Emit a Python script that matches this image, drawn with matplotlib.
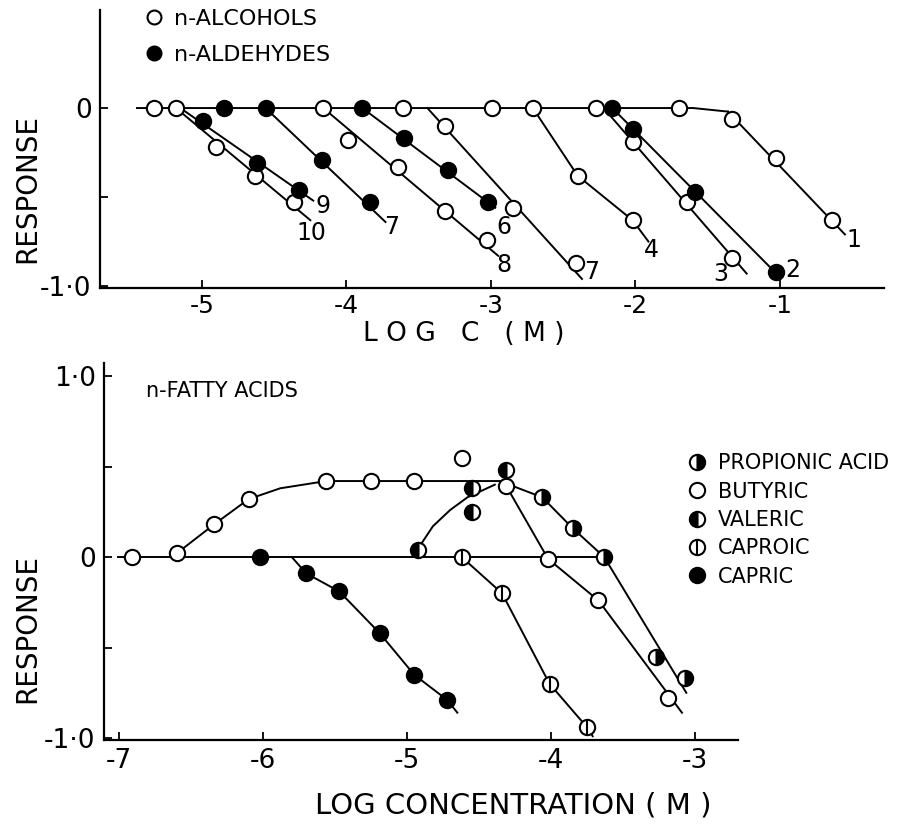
import numpy as np
import matplotlib.pyplot as plt
from matplotlib.lines import Line2D

plt.rcParams['font.family'] = ['DejaVu Sans']

# ---------------- top panel: n-alcohols (open) / n-aldehydes (filled)
top_base_x = [-5.45, -1.60, -1.36]
top_base_y = [0.0, 0.0, -0.02]
alc_base_x = [-5.33, -5.18, -4.16, -3.61, -2.99, -2.71, -2.27, -1.70]
ald_base_x = [-4.85, -4.56, -3.89, -2.16]
alc_extra_x = [-3.99]
alc_extra_y = [-0.18]

alc10_x = [-4.90, -4.63, -4.36]
alc10_y = [-0.22, -0.38, -0.53]
alc10_line_x = [-5.18, -4.25]
alc10_line_y = [0.0, -0.63]

ald9_x = [-4.99, -4.62, -4.33]
ald9_y = [-0.07, -0.31, -0.46]
ald9_line_x = [-5.15, -4.23]
ald9_line_y = [0.0, -0.52]

ald7_x = [-4.17, -3.84]
ald7_y = [-0.29, -0.53]
ald7_line_x = [-4.56, -3.73]
ald7_line_y = [0.0, -0.64]

alc8_x = [-3.64, -3.32, -3.03]
alc8_y = [-0.33, -0.58, -0.74]
alc8_line_x = [-4.16, -2.95]
alc8_line_y = [0.0, -0.83]

ald6_x = [-3.60, -3.30, -3.02]
ald6_y = [-0.17, -0.35, -0.53]
ald6_line_x = [-3.89, -2.97]
ald6_line_y = [0.0, -0.56]

alc7_x = [-3.32, -2.85, -2.41]
alc7_y = [-0.10, -0.56, -0.87]
alc7_line_x = [-3.44, -2.37]
alc7_line_y = [0.0, -0.96]

alc4_x = [-2.40, -2.02]
alc4_y = [-0.38, -0.63]
alc4_line_x = [-2.71, -2.40, -2.02, -1.91]
alc4_line_y = [0.0, -0.38, -0.63, -0.75]

alc3_x = [-2.02, -1.64, -1.33]
alc3_y = [-0.19, -0.53, -0.84]
alc3_line_x = [-2.22, -1.23]
alc3_line_y = [0.0, -0.93]

ald2_x = [-2.02, -1.59, -1.03]
ald2_y = [-0.12, -0.47, -0.92]
ald2_line_x = [-2.16, -1.00]
ald2_line_y = [0.0, -0.95]

alc1_x = [-1.33, -1.03, -0.64]
alc1_y = [-0.06, -0.28, -0.63]
alc1_line_x = [-1.36, -0.55]
alc1_line_y = [-0.02, -0.71]

num_labels = ['9', '10', '7', '6', '8', '7', '4', '3', '2', '1']
num_x = [-4.16, -4.24, -3.69, -2.91, -2.91, -2.30, -1.89, -1.41, -0.91, -0.49]
num_y = [-0.55, -0.70, -0.67, -0.67, -0.88, -0.92, -0.80, -0.93, -0.91, -0.74]

# ---------------- bottom panel: n-fatty acids
bot_base_x = [-7.01, -3.63]
bot_base_y = [0.0, 0.0]

butyric_x = [-6.91, -6.60, -6.34, -6.10, -5.56, -5.25, -4.95, -4.31, -4.02, -3.67, -3.19]
butyric_y = [0.0, 0.02, 0.18, 0.32, 0.42, 0.42, 0.42, 0.39, -0.01, -0.24, -0.78]
butyric_extra_x = [-4.62]
butyric_extra_y = [0.55]
butyric_line_x = [-6.60, -6.34, -6.10, -5.88, -5.56, -4.33, -4.02, -3.67, -3.09]
butyric_line_y = [0.02, 0.18, 0.32, 0.38, 0.42, 0.42, -0.01, -0.24, -0.86]

valeric_x = [-4.92, -4.55, -4.55, -4.31]
valeric_y = [0.04, 0.38, 0.25, 0.48]
valeric_line_x = [-4.92, -4.82, -4.70, -4.58, -4.39]
valeric_line_y = [0.05, 0.17, 0.26, 0.33, 0.40]

propionic_x = [-4.06, -3.85, -3.63, -3.27, -3.07]
propionic_y = [0.33, 0.16, 0.0, -0.55, -0.67]
propionic_line_x = [-4.29, -4.06, -3.85, -3.63, -3.06]
propionic_line_y = [0.40, 0.33, 0.16, 0.0, -0.75]

caproic_x = [-4.62, -4.34, -4.01, -3.75]
caproic_y = [0.0, -0.20, -0.70, -0.94]
caproic_line_x = [-4.62, -4.34, -4.01, -3.75, -3.71]
caproic_line_y = [0.0, -0.20, -0.70, -0.94, -0.99]

capric_x = [-6.02, -5.70, -5.47, -5.19, -4.95, -4.72]
capric_y = [0.0, -0.09, -0.19, -0.42, -0.65, -0.79]
capric_line_x = [-5.80, -5.70, -5.47, -5.19, -4.95, -4.72, -4.65]
capric_line_y = [0.0, -0.09, -0.19, -0.42, -0.65, -0.79, -0.86]

acid_names = ['PROPIONIC ACID', 'BUTYRIC', 'VALERIC', 'CAPROIC', 'CAPRIC']

MS = 11
LW = 1.4
MEW = 1.5

styles = {
    'open': dict(marker='o', mfc='white', mec='black'),
    'filled': dict(marker='o', mfc='black', mec='black'),
    'right': dict(marker='o', mfc='black', mec='black', fillstyle='right', markerfacecoloralt='white'),
    'left': dict(marker='o', mfc='black', mec='black', fillstyle='left', markerfacecoloralt='white'),
}


def marks(ax, x, y, kind):
    if kind == 'caproic':
        ax.plot(x, y, ls='none', ms=MS, mew=MEW, zorder=3, **styles['open'])
        ax.plot(x, y, ls='none', marker='|', ms=MS - 1, mew=MEW, color='black', zorder=4)
    else:
        ax.plot(x, y, ls='none', ms=MS, mew=MEW, zorder=3, **styles[kind])


def line(ax, x, y):
    ax.plot(x, y, color='black', lw=LW, zorder=2)


def style_axes(ax):
    for s in ['top', 'right']:
        ax.spines[s].set_visible(False)
    for s in ['left', 'bottom']:
        ax.spines[s].set_linewidth(1.6)
    ax.tick_params(direction='in', length=6, width=1.3, labelsize=19, pad=6)


fig = plt.figure(figsize=(9.18, 8.3), dpi=100)

# ---------------- top panel
ax1 = fig.add_axes([0.1089, 0.653, 0.854, 0.335])
style_axes(ax1)
ax1.tick_params(axis='x', labelsize=18, pad=4)
ax1.set_xlim(-5.706, -0.280)
ax1.set_ylim(-1.011, 0.551)
ax1.set_xticks([-5, -4, -3, -2, -1])
ax1.set_xticklabels(['-5', '-4', '-3', '-2', '-1'])
ax1.set_yticks([0, -0.5, -1.0])
ax1.set_yticklabels(['0', '', '-1·0'])

line(ax1, top_base_x, top_base_y)
top_series = [
    (alc10_x, alc10_y, alc10_line_x, alc10_line_y, 'open'),
    (ald9_x, ald9_y, ald9_line_x, ald9_line_y, 'filled'),
    (ald7_x, ald7_y, ald7_line_x, ald7_line_y, 'filled'),
    (alc8_x, alc8_y, alc8_line_x, alc8_line_y, 'open'),
    (ald6_x, ald6_y, ald6_line_x, ald6_line_y, 'filled'),
    (alc7_x, alc7_y, alc7_line_x, alc7_line_y, 'open'),
    (alc4_x, alc4_y, alc4_line_x, alc4_line_y, 'open'),
    (alc3_x, alc3_y, alc3_line_x, alc3_line_y, 'open'),
    (ald2_x, ald2_y, ald2_line_x, ald2_line_y, 'filled'),
    (alc1_x, alc1_y, alc1_line_x, alc1_line_y, 'open'),
]
for px, py, lx, ly, kind in top_series:
    line(ax1, lx, ly)
    marks(ax1, px, py, kind)
marks(ax1, alc_base_x, np.zeros(len(alc_base_x)), 'open')
marks(ax1, ald_base_x, np.zeros(len(ald_base_x)), 'filled')
marks(ax1, alc_extra_x, alc_extra_y, 'open')

for t, x, y in zip(num_labels, num_x, num_y):
    ax1.text(x, y, t, fontsize=17, ha='center', va='center')

h_alc = Line2D([], [], ls='none', ms=MS - 1, mew=MEW, **styles['open'])
h_ald = Line2D([], [], ls='none', ms=MS - 1, mew=MEW, **styles['filled'])
ax1.legend([h_alc, h_ald], ['n-ALCOHOLS', 'n-ALDEHYDES'], loc='upper left',
           bbox_to_anchor=(0.043, 1.045), frameon=False, fontsize=16,
           handlelength=0.8, handletextpad=0.5, labelspacing=0.72, borderpad=0)

# ---------------- bottom panel
ax2 = fig.add_axes([0.1133, 0.1084, 0.6906, 0.4542])
style_axes(ax2)
ax2.set_xlim(-7.104, -2.701)
ax2.set_ylim(-1.011, 1.072)
ax2.set_xticks([-7, -6, -5, -4, -3])
ax2.set_xticklabels(['-7', '-6', '-5', '-4', '-3'])
ax2.set_yticks([1.0, 0.5, 0, -0.5, -1.0])
ax2.set_yticklabels(['1·0', '', '0', '', '-1·0'])

line(ax2, bot_base_x, bot_base_y)
line(ax2, butyric_line_x, butyric_line_y)
line(ax2, valeric_line_x, valeric_line_y)
line(ax2, propionic_line_x, propionic_line_y)
line(ax2, caproic_line_x, caproic_line_y)
line(ax2, capric_line_x, capric_line_y)

marks(ax2, butyric_x, butyric_y, 'open')
marks(ax2, butyric_extra_x, butyric_extra_y, 'open')
marks(ax2, valeric_x, valeric_y, 'left')
marks(ax2, propionic_x, propionic_y, 'right')
marks(ax2, caproic_x, caproic_y, 'caproic')
marks(ax2, capric_x, capric_y, 'filled')

ax2.text(-6.81, 0.92, 'n-FATTY ACIDS', fontsize=15, ha='left', va='center')

h_prop = Line2D([], [], ls='none', ms=MS, mew=MEW, **styles['right'])
h_but = Line2D([], [], ls='none', ms=MS, mew=MEW, **styles['open'])
h_val = Line2D([], [], ls='none', ms=MS, mew=MEW, **styles['left'])
h_cap1 = (Line2D([], [], ls='none', ms=MS, mew=MEW, **styles['open']),
          Line2D([], [], ls='none', marker='|', ms=MS - 1, mew=MEW, color='black'))
h_capric = Line2D([], [], ls='none', ms=MS, mew=MEW, **styles['filled'])
leg = ax2.legend([h_prop, h_but, h_val, h_cap1, h_capric], acid_names,
                 loc='upper left', bbox_to_anchor=(0.906, 0.788), frameon=False,
                 fontsize=15, handlelength=0.8, handletextpad=0.6,
                 labelspacing=0.4, borderpad=0)
leg.set_clip_on(False)

# ---------------- axis titles
fig.text(0.505, 0.597, 'L O G   C   ( M )', fontsize=19, ha='center', va='center')
fig.text(0.559, 0.030, 'LOG CONCENTRATION ( M )', fontsize=21, ha='center', va='center')
fig.text(0.030, 0.773, 'RESPONSE', fontsize=20, rotation=90, ha='center', va='center')
fig.text(0.030, 0.243, 'RESPONSE', fontsize=20, rotation=90, ha='center', va='center')

fig.savefig('out.png', dpi=100)
